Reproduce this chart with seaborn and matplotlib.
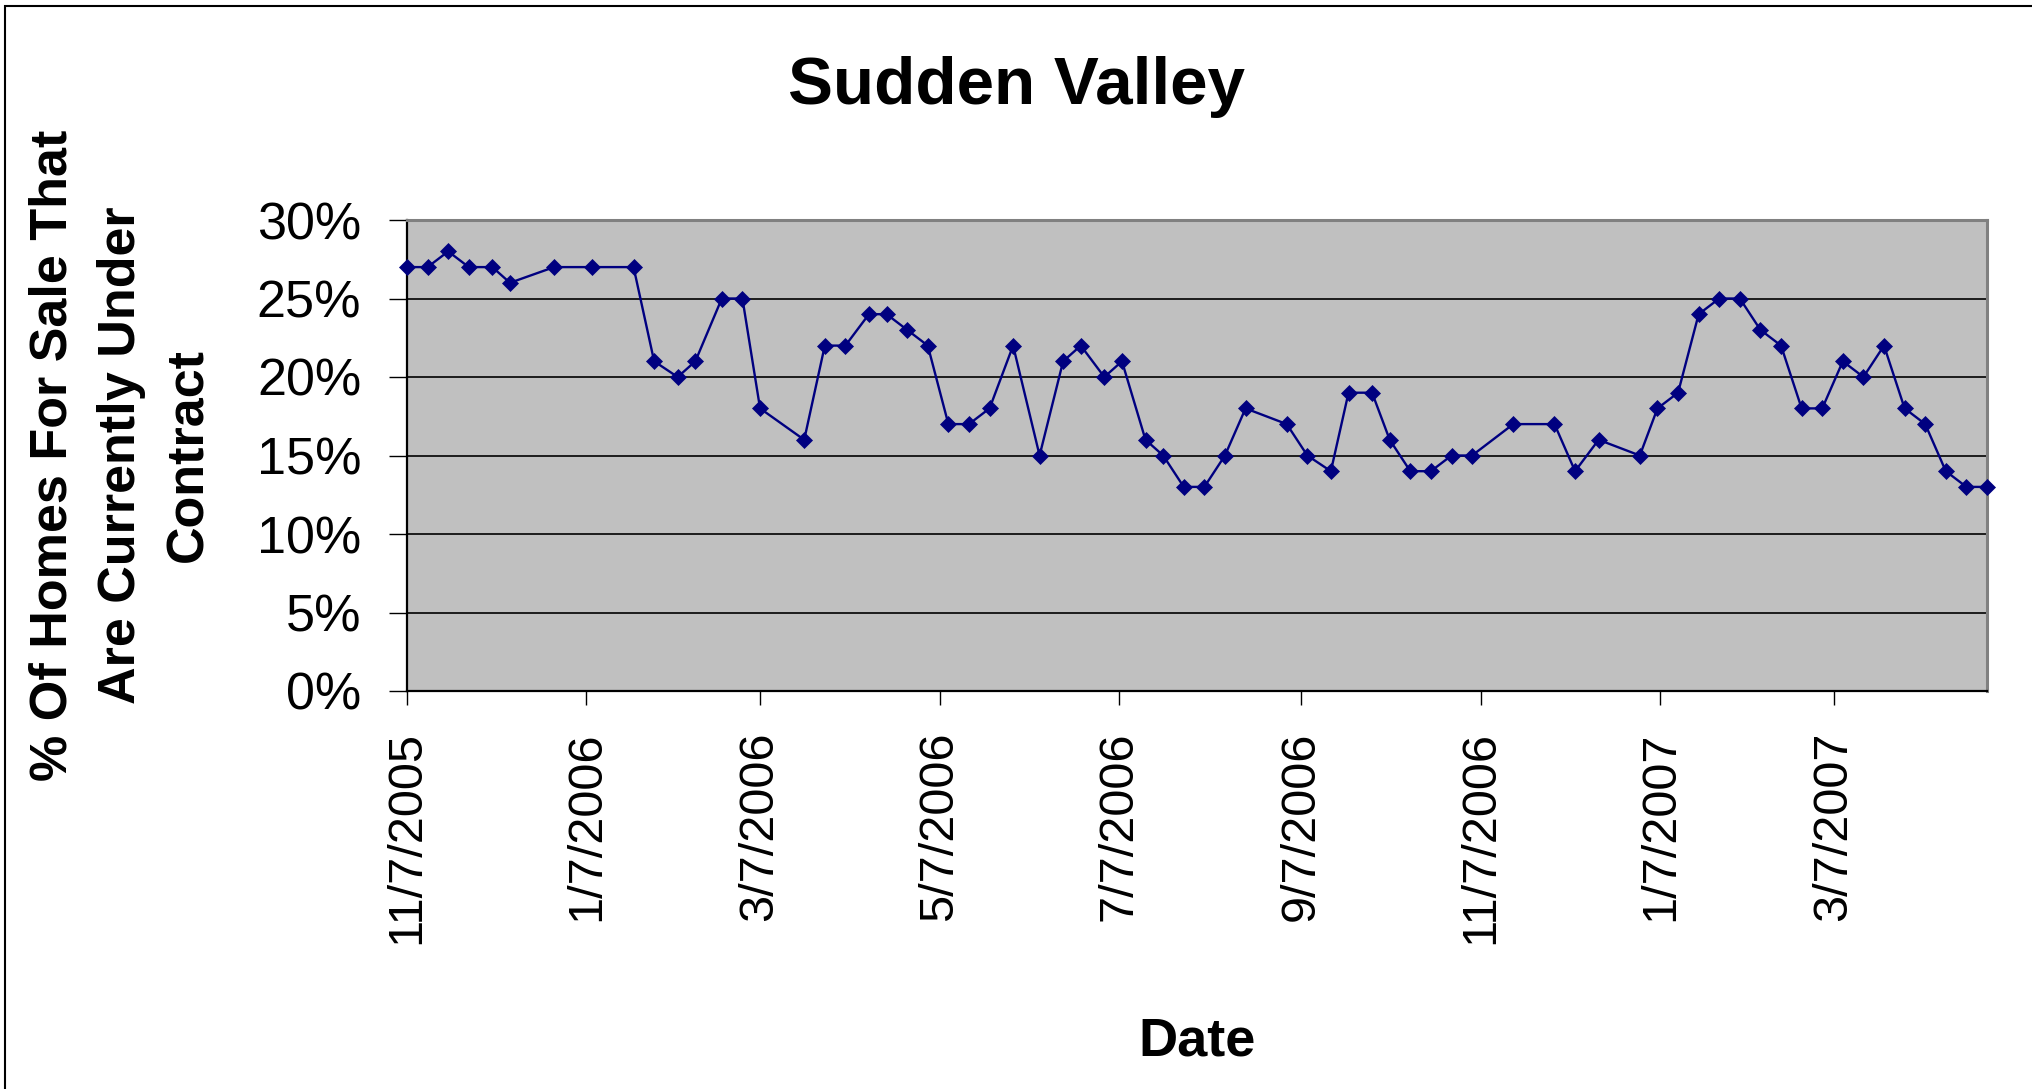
import pandas as pd
import matplotlib
matplotlib.use("Agg")
import matplotlib.pyplot as plt
from matplotlib.patches import Rectangle
from matplotlib.ticker import PercentFormatter
import seaborn as sns

# weekly readings, Sudden Valley
dates = [
    "2005-11-07", "2005-11-14", "2005-11-21", "2005-11-28", "2005-12-06",
    "2005-12-12", "2005-12-27", "2006-01-09", "2006-01-23", "2006-01-30",
    "2006-02-07", "2006-02-13", "2006-02-22", "2006-03-01", "2006-03-07",
    "2006-03-22", "2006-03-29", "2006-04-05", "2006-04-13", "2006-04-19",
    "2006-04-26", "2006-05-03", "2006-05-10", "2006-05-17", "2006-05-24",
    "2006-06-01", "2006-06-10", "2006-06-18", "2006-06-24", "2006-07-02",
    "2006-07-08", "2006-07-16", "2006-07-22", "2006-07-29", "2006-08-05",
    "2006-08-12", "2006-08-19", "2006-09-02", "2006-09-09", "2006-09-17",
    "2006-09-23", "2006-10-01", "2006-10-07", "2006-10-14", "2006-10-21",
    "2006-10-28", "2006-11-04", "2006-11-18", "2006-12-02", "2006-12-09",
    "2006-12-17", "2006-12-31", "2007-01-06", "2007-01-13", "2007-01-20",
    "2007-01-27", "2007-02-03", "2007-02-10", "2007-02-17", "2007-02-24",
    "2007-03-03", "2007-03-10", "2007-03-17", "2007-03-24", "2007-03-31",
    "2007-04-07", "2007-04-14", "2007-04-21", "2007-04-28",
]
pct_under_contract = [
    27, 27, 28, 27, 27, 26, 27, 27, 27,
    21, 20, 21, 25, 25, 18,
    16, 22, 22, 24, 24, 23, 22, 17, 17, 18, 22, 15, 21, 22, 20, 21, 16, 15, 13,
    13, 15, 18, 17, 15, 14, 19, 19, 16, 14, 14, 15, 15, 17, 17, 14, 16,
    15, 18, 19, 24, 25, 25, 23, 22, 18, 18, 21, 20, 22, 18, 17, 14, 13, 13,
]
tick_labels = ["11/7/2005", "1/7/2006", "3/7/2006", "5/7/2006", "7/7/2006",
               "9/7/2006", "11/7/2006", "1/7/2007", "3/7/2007"]
y_ticks = [0, 5, 10, 15, 20, 25, 30]

df = pd.DataFrame({"date": pd.to_datetime(dates), "pct": pct_under_contract})

sns.set_style("white")
plt.rcParams["font.family"] = ["Liberation Sans", "DejaVu Sans"]
plt.rcParams.update({"text.color": "black", "axes.labelcolor": "black",
                     "xtick.color": "black", "ytick.color": "black"})

W, H = 2032, 1089
fig = plt.figure(figsize=(W / 100, H / 100), dpi=100)
fig.patch.set_facecolor("white")

# plot area in pixels: x 407..1987, y 220..691
ax = fig.add_axes([407 / W, 1 - 691 / H, (1987 - 407) / W, (691 - 220) / H])
ax.set_facecolor("#C0C0C0")

sns.lineplot(data=df, x="date", y="pct", ax=ax, color="#000080",
             marker="D", markersize=8.5, markeredgecolor="#000080",
             markeredgewidth=0.5, linewidth=1.7, estimator=None,
             clip_on=False, zorder=3)

ax.set_ylim(0, 30)
ax.set_yticks(y_ticks)
ax.yaxis.set_major_formatter(PercentFormatter(xmax=100, decimals=0))
ax.set_xlim(df["date"].iloc[0], df["date"].iloc[-1])
ax.set_xticks(pd.to_datetime(tick_labels, format="%m/%d/%Y"))
ax.set_xticklabels(tick_labels, rotation=90, va="top", ha="center")

ax.yaxis.grid(True, color="black", linewidth=1.2)
ax.xaxis.grid(False)
ax.set_axisbelow(True)

for side in ["left", "bottom"]:
    ax.spines[side].set_color("black")
    ax.spines[side].set_linewidth(1.6)
for side in ["top", "right"]:
    ax.spines[side].set_color("#808080")
    ax.spines[side].set_linewidth(2.2)

ax.tick_params(axis="y", direction="out", length=13, width=1.0,
               labelsize=37.5, pad=20, left=True, colors="black")
ax.tick_params(axis="x", direction="out", length=10, width=1.0,
               labelsize=35, pad=19, bottom=True, colors="black")
ax.set_xlabel("")
ax.set_ylabel("")

fig.text(1016 / W, 1 - 104 / H, "Sudden Valley", ha="center", va="baseline",
         fontsize=48.5, fontweight="bold", color="black")
fig.text(1197 / W, 1 - 1055 / H, "Date", ha="center", va="baseline",
         fontsize=39, fontweight="bold", color="black")
fig.text(121 / W, 1 - 455 / H,
         "% Of Homes For Sale That\nAre Currently Under\nContract",
         ha="center", va="center", rotation=90, multialignment="center",
         fontsize=37.5, fontweight="bold", linespacing=1.5, color="black")

# outer chart frame (only top and left edges fall inside the image)
fig.patches.append(Rectangle((5 / W, -0.05), 1.2, 1.05 - 6 / H,
                             transform=fig.transFigure, fill=False,
                             edgecolor="black", linewidth=1.5))

fig.savefig("out.png", dpi=100)
